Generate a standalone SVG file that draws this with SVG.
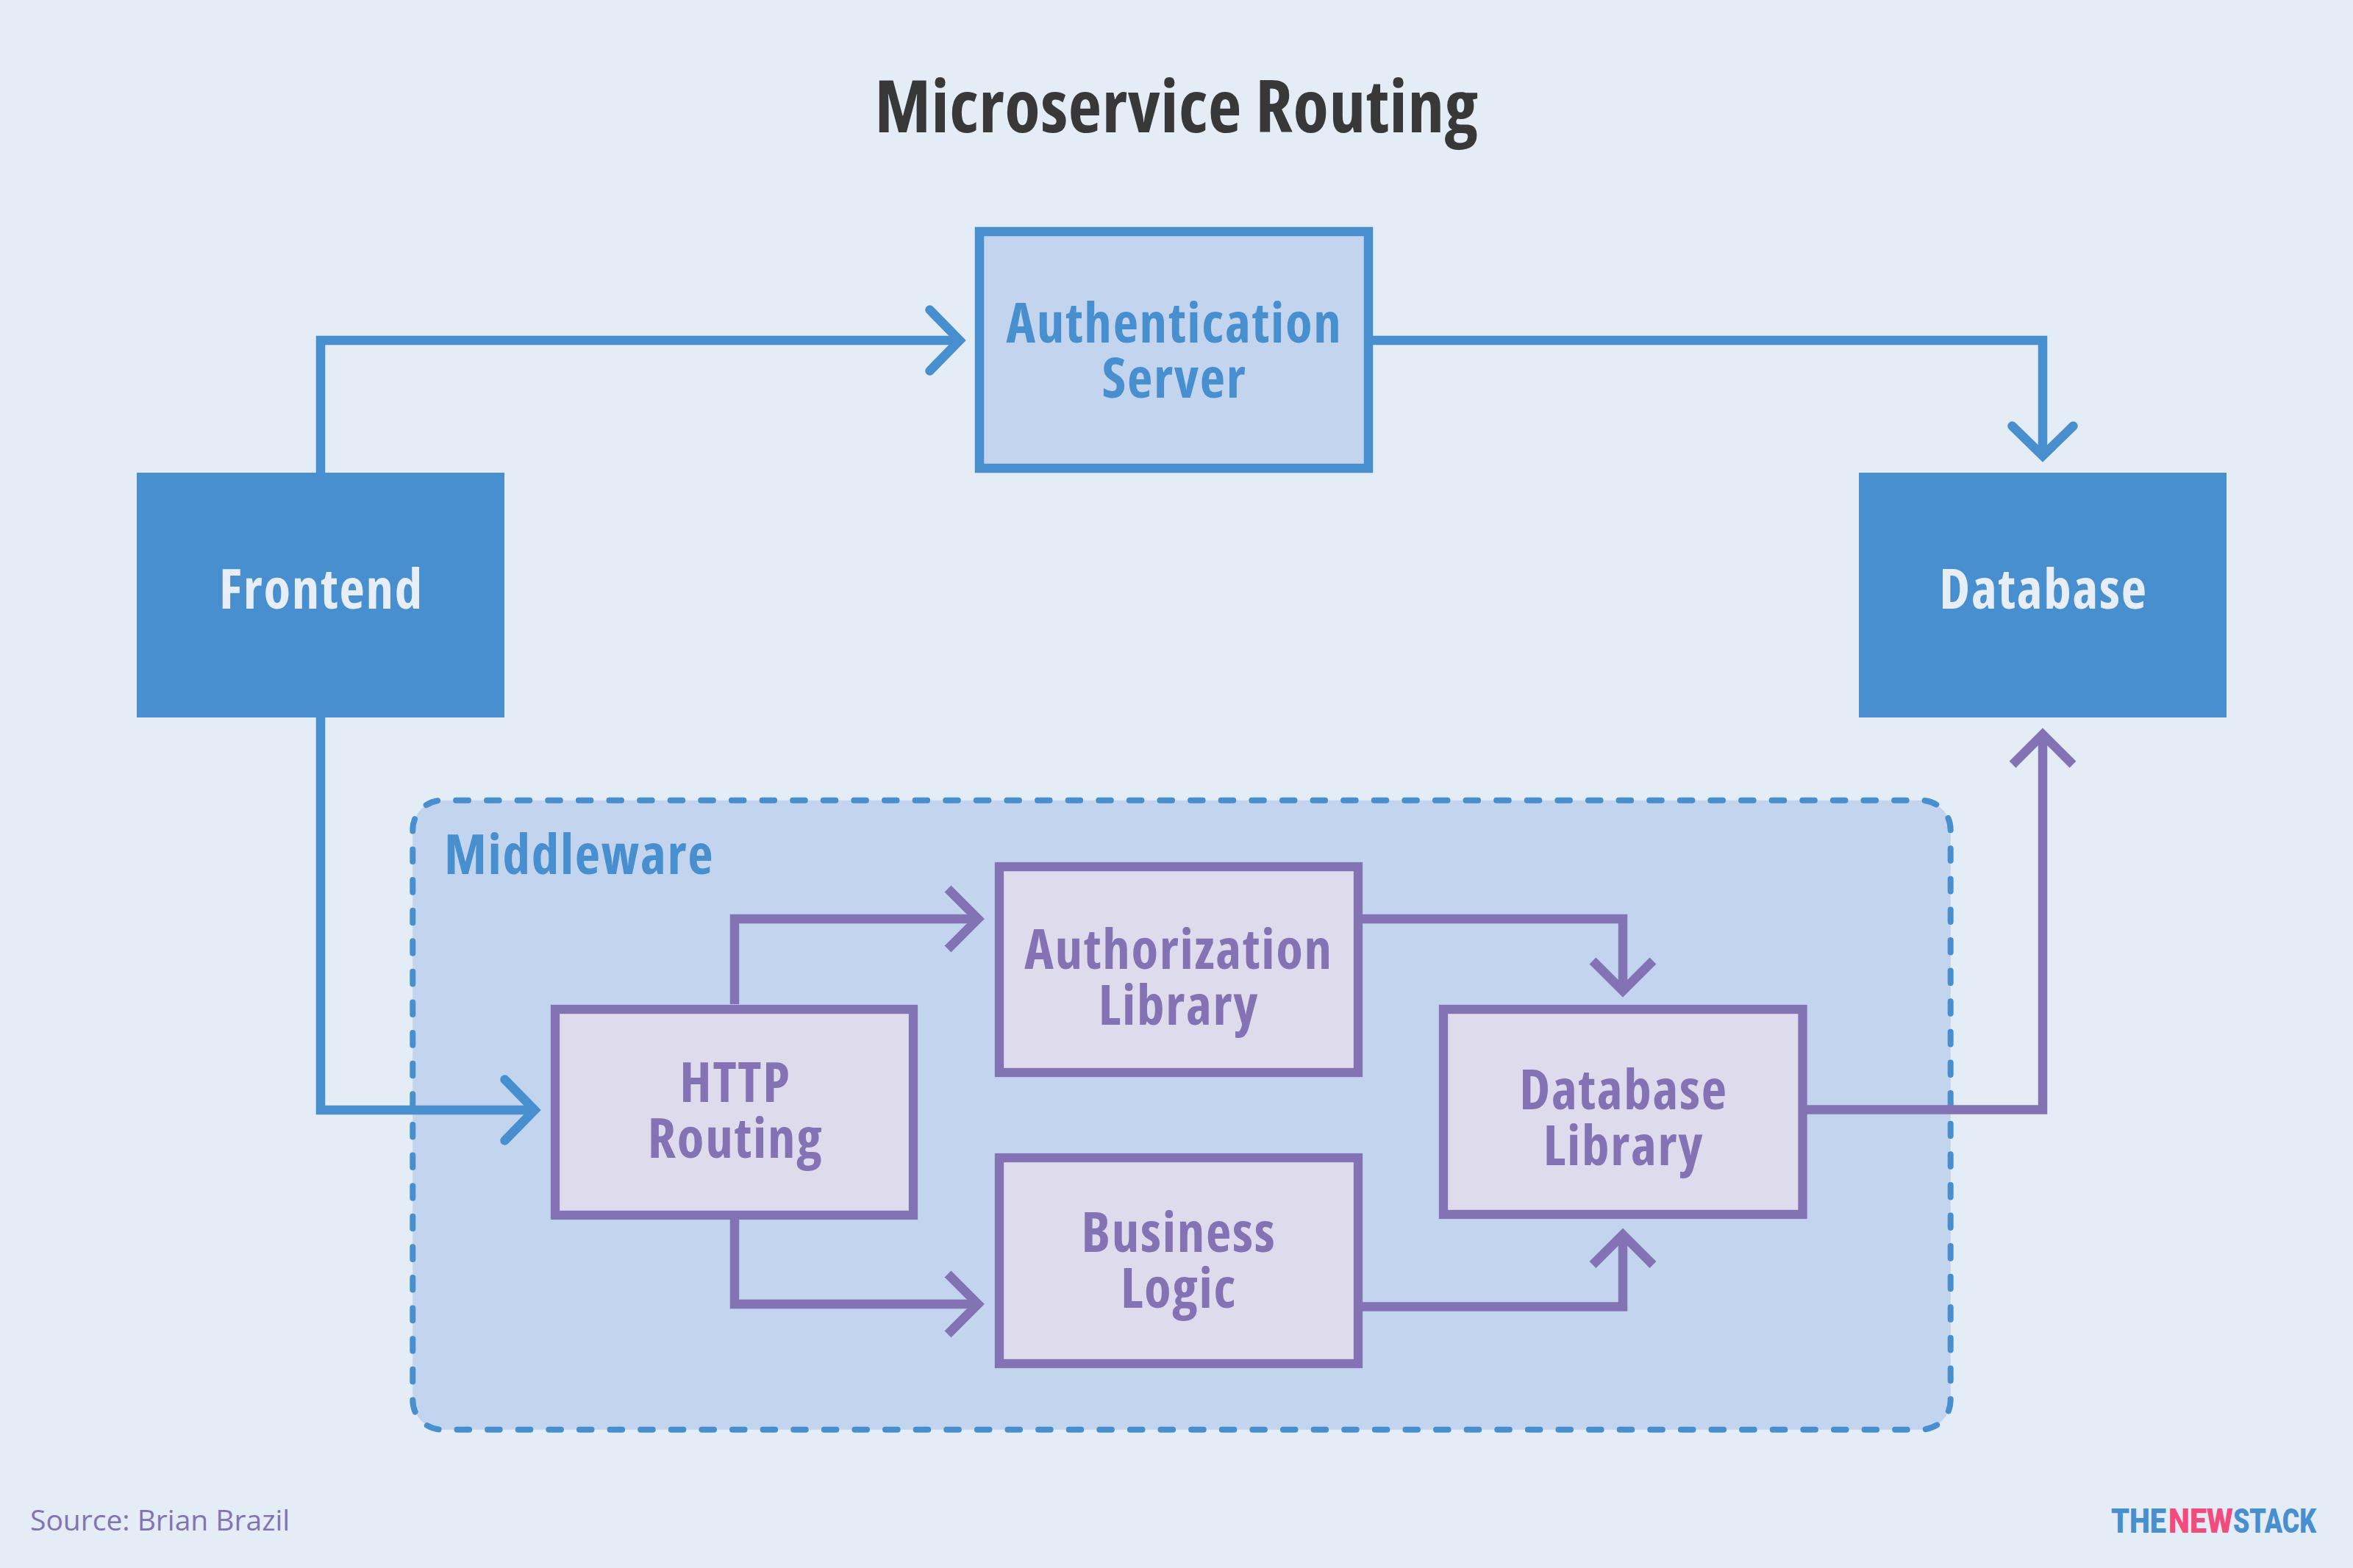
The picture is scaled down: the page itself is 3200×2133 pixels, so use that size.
<svg xmlns="http://www.w3.org/2000/svg" width="3200" height="2133" viewBox="0 0 3200 2133">
<style>
text{font-family:"Open Sans","Noto Sans",sans-serif;font-weight:700;font-stretch:75%;text-anchor:middle}
.t{font-size:75px;letter-spacing:1.7px}
.b{fill:#478fce}.p{fill:#8473b4}.l{fill:#e7eef7}
.bx{fill:#c3d5ee;stroke:#478fce;stroke-width:12.5}
.px{fill:#dddbec;stroke:#8473b4;stroke-width:12.3}
.cb,.cp{fill:none;stroke-width:12.5;stroke-linejoin:miter}
.cb{stroke:#478fce;marker-end:url(#ab)}
.cp{stroke:#8473b4;marker-end:url(#ap)}
</style>
<defs>
<marker id="ab" markerUnits="userSpaceOnUse" markerWidth="140" markerHeight="140" refX="70" refY="70" orient="auto" viewBox="0 0 140 140"><path d="M29.5 28.5L70 70L29.5 111.500" fill="none" stroke="#478fce" stroke-width="12.5" stroke-linecap="round"/></marker>
<marker id="ap" markerUnits="userSpaceOnUse" markerWidth="140" markerHeight="140" refX="70" refY="70" orient="auto" viewBox="0 0 140 140"><path d="M29 29L70 70L29 111" fill="none" stroke="#8473b4" stroke-width="12.5"/></marker>
</defs>
<rect width="3200" height="2133" fill="#e4ecf5"/>
<text x="1600" y="180" font-size="99" fill="#383838" letter-spacing="0.6">Microservice Routing</text>
<g id="middleware"><path d="M620.4 1088.7H2612.700A40 40 0 0 1 2652.700 1128.700V1904.700A40 40 0 0 1 2612.700 1944.700H601.300A40 40 0 0 1 561.300 1904.700V1128.700A40 40 0 0 1 601.300 1088.700Z" fill="#c3d5ee" stroke="#478fce" stroke-width="8" stroke-dasharray="16.6 25.01" stroke-linecap="round"/>
<text x="604" y="1189" class="t b" style="text-anchor:start">Middleware</text></g>
<g id="connectors">
<path class="cb" d="M436 643V463H1305"/>
<path class="cb" d="M1867 463H2778V620"/>
<path class="cb" d="M436 976V1510H727"/>
<path class="cp" d="M999 1366V1250H1330"/>
<path class="cp" d="M999 1659V1774H1330"/>
<path class="cp" d="M1853 1250H2207V1348"/>
<path class="cp" d="M1853 1777.500H2207V1679.500"/>
<path class="cp" d="M2457 1509.500H2778V999"/>
</g>
<g id="frontend"><rect x="186" y="643" width="500" height="333" fill="#478fce"/><text x="437" y="828" class="t l">Frontend</text></g>
<g id="database"><rect x="2528" y="643" width="500" height="333" fill="#478fce"/><text x="2779" y="828" class="t l">Database</text></g>
<g id="auth-server"><rect x="1332" y="315" width="529" height="322" class="bx"/><text x="1597" y="466" class="t b">Authentication</text><text x="1597" y="541" class="t b">Server</text></g>
<g id="http-routing"><rect x="755" y="1373" width="487" height="280" class="px"/><text x="1000" y="1499" class="t p">HTTP</text><text x="1000" y="1575" class="t p">Routing</text></g>
<g id="authz-lib"><rect x="1359" y="1179" width="488" height="280" class="px"/><text x="1603" y="1318" class="t p">Authorization</text><text x="1603" y="1394" class="t p">Library</text></g>
<g id="business-logic"><rect x="1359" y="1575" width="488" height="280" class="px"/><text x="1603" y="1703" class="t p">Business</text><text x="1603" y="1779" class="t p">Logic</text></g>
<g id="db-lib"><rect x="1963" y="1373" width="488.500" height="279" class="px"/><text x="2208" y="1509" class="t p">Database</text><text x="2208" y="1585" class="t p">Library</text></g>
<text x="41" y="2082" font-size="39" class="p" style="text-anchor:start;font-weight:400;font-stretch:100%">Source: Brian Brazil</text>
<text y="2085" font-size="46" class="b" style="text-anchor:start;font-family:Roboto,sans-serif;font-weight:900;font-stretch:100%"><tspan x="2871" textLength="75" lengthAdjust="spacingAndGlyphs">THE</tspan><tspan x="2949" fill="#f44b7f" textLength="88" lengthAdjust="spacingAndGlyphs">NEW</tspan><tspan x="3037" textLength="113" lengthAdjust="spacingAndGlyphs">STACK</tspan></text>
</svg>
